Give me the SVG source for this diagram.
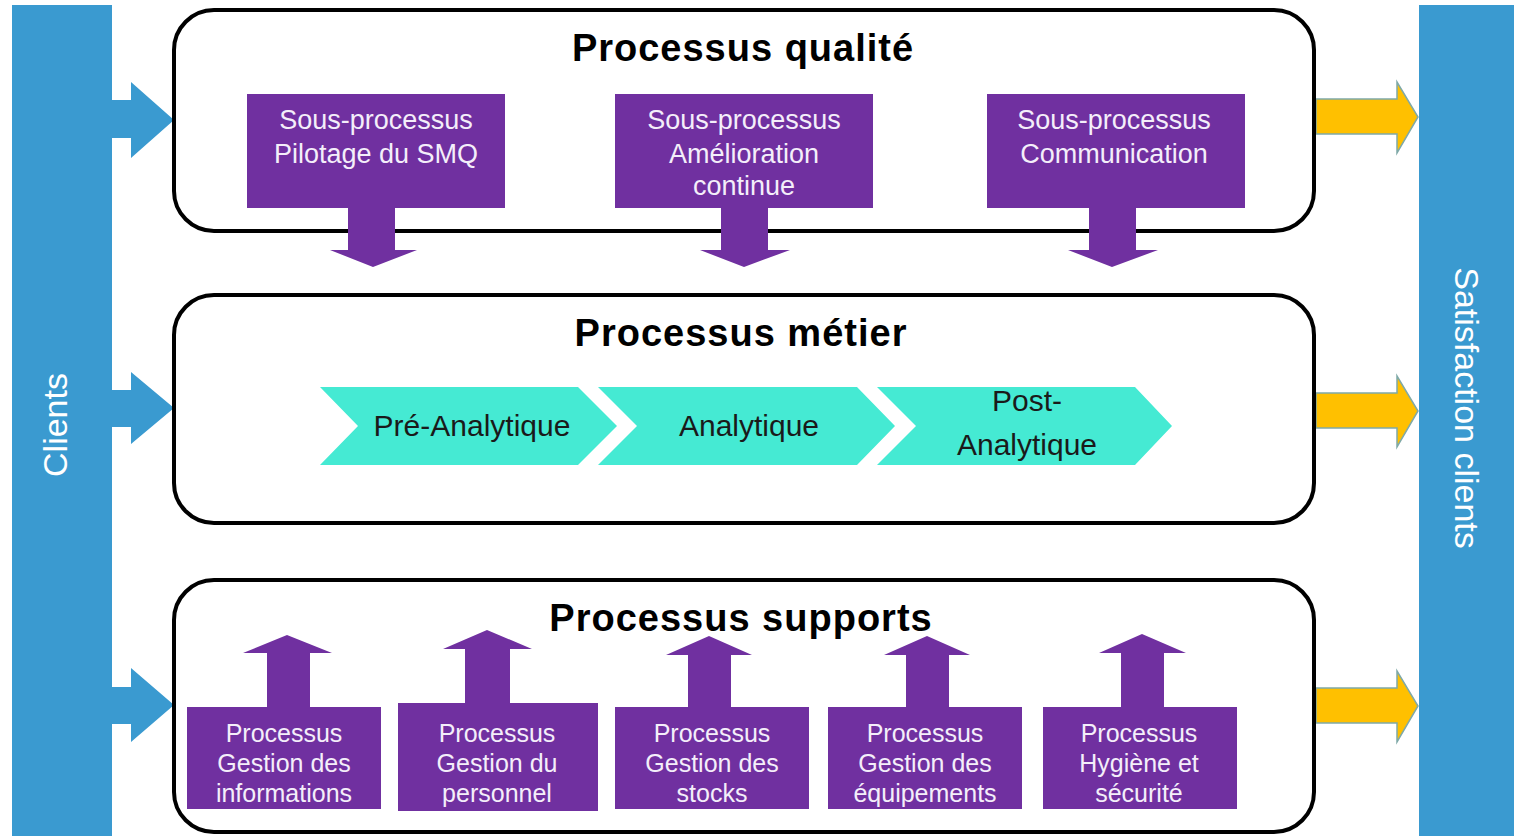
<svg xmlns="http://www.w3.org/2000/svg" width="1514" height="836" viewBox="0 0 1514 836">
<defs>
<style>
.frame{fill:#ffffff;stroke:#000;stroke-width:4}
.side{fill:#3A9AD0}
.purple{fill:#7030A0}
.yel{fill:#FFC000;stroke:#7FA9A8;stroke-width:1.5}
.chev{fill:#45EAD3}
.title{font-family:"Liberation Sans",Arial,sans-serif;font-weight:bold;font-size:38px;letter-spacing:1px;fill:#000;text-anchor:middle}
.wt{font-family:"Liberation Sans",Arial,sans-serif;font-size:27px;fill:#F4EEFA;text-anchor:middle}
.wb{font-family:"Liberation Sans",Arial,sans-serif;font-size:25px;fill:#F4EEFA;text-anchor:middle}
.ct{font-family:"Liberation Sans",Arial,sans-serif;font-size:30px;fill:#1a1a1a;text-anchor:middle}
.st{font-family:"Liberation Sans",Arial,sans-serif;font-size:34px;fill:#ffffff;text-anchor:middle}
</style>
</defs>
<rect width="1514" height="836" fill="#ffffff"/>

<g id="clients">
<rect class="side" x="12" y="5" width="100" height="831"/>
<text class="st" transform="translate(67,425) rotate(-90)">Clients</text>
</g>
<g id="satisfaction">
<rect class="side" x="1419" y="5" width="95" height="831"/>
<text class="st" transform="translate(1455,408) rotate(90)">Satisfaction clients</text>
</g>

<g id="connectors">
<path class="side" d="M110,100 H131 V82 L174,120 L131,158 V138 H110 Z"/>
<path class="side" d="M110,390 H131 V372 L174,408 L131,444 V427 H110 Z"/>
<path class="side" d="M110,687 H131 V668 L174,705 L131,742 V724 H110 Z"/>
<path class="yel" d="M1316,99 H1397 V82 L1418,117 L1397,153 V134 H1316 Z"/>
<path class="yel" d="M1316,393 H1397 V376 L1418,411 L1397,447 V428 H1316 Z"/>
<path class="yel" d="M1316,688 H1397 V671 L1418,706 L1397,742 V723 H1316 Z"/>
</g>

<g id="processus-qualite">
<rect class="frame" x="174" y="10" width="1140" height="221" rx="40"/>
<text class="title" x="743" y="61">Processus qualité</text>
</g>
<g id="processus-metier">
<rect class="frame" x="174" y="295" width="1140" height="228" rx="40"/>
<text class="title" x="741" y="346">Processus métier</text>
</g>
<g id="processus-supports">
<rect class="frame" x="174" y="580" width="1140" height="252" rx="40"/>
<text class="title" x="741" y="631">Processus supports</text>
</g>

<g id="sp-pilotage">
<rect class="purple" x="247" y="94" width="258" height="114"/>
<path class="purple" d="M348,206 H395 V250 H417 L373,267 L330,250 H348 Z"/>
<text class="wt" x="376" y="129">Sous-processus</text>
<text class="wt" x="376" y="163">Pilotage du SMQ</text>
</g>
<g id="sp-amelioration">
<rect class="purple" x="615" y="94" width="258" height="114"/>
<path class="purple" d="M721,206 H768 V250 H790 L744,267 L700,250 H721 Z"/>
<text class="wt" x="744" y="129">Sous-processus</text>
<text class="wt" x="744" y="163">Amélioration</text>
<text class="wt" x="744" y="195">continue</text>
</g>
<g id="sp-communication">
<rect class="purple" x="987" y="94" width="258" height="114"/>
<path class="purple" d="M1089,206 H1136 V250 H1158 L1112,267 L1068,250 H1089 Z"/>
<text class="wt" x="1114" y="129">Sous-processus</text>
<text class="wt" x="1114" y="163">Communication</text>
</g>

<g id="pre-analytique">
<path class="chev" d="M320,387 H578 L617,426 L578,465 H320 L358,426 Z"/>
<text class="ct" x="472" y="436">Pré-Analytique</text>
</g>
<g id="analytique">
<path class="chev" d="M598,387 H857 L895,426 L857,465 H598 L637,426 Z"/>
<text class="ct" x="749" y="436">Analytique</text>
</g>
<g id="post-analytique">
<path class="chev" d="M877,387 H1135 L1172,426 L1135,465 H877 L916,426 Z"/>
<text class="ct" x="1027" y="411">Post-</text>
<text class="ct" x="1027" y="455">Analytique</text>
</g>

<g id="ps-informations">
<path class="purple" d="M267,710 V653 H243 L287,635 L332,653 H310 V710 Z"/>
<rect class="purple" x="187" y="707" width="194" height="102"/>
<text class="wb" x="284" y="742">Processus</text>
<text class="wb" x="284" y="772">Gestion des</text>
<text class="wb" x="284" y="802">informations</text>
</g>
<g id="ps-personnel">
<path class="purple" d="M465,706 V649 H443 L487,630 L532,649 H510 V706 Z"/>
<rect class="purple" x="398" y="703" width="200" height="108"/>
<text class="wb" x="497" y="742">Processus</text>
<text class="wb" x="497" y="772">Gestion du</text>
<text class="wb" x="497" y="802">personnel</text>
</g>
<g id="ps-stocks">
<path class="purple" d="M688,710 V655 H666 L709,636 L752,655 H731 V710 Z"/>
<rect class="purple" x="615" y="707" width="194" height="102"/>
<text class="wb" x="712" y="742">Processus</text>
<text class="wb" x="712" y="772">Gestion des</text>
<text class="wb" x="712" y="802">stocks</text>
</g>
<g id="ps-equipements">
<path class="purple" d="M906,710 V655 H884 L927,636 L970,655 H949 V710 Z"/>
<rect class="purple" x="828" y="707" width="194" height="102"/>
<text class="wb" x="925" y="742">Processus</text>
<text class="wb" x="925" y="772">Gestion des</text>
<text class="wb" x="925" y="802">équipements</text>
</g>
<g id="ps-hygiene">
<path class="purple" d="M1121,710 V653 H1099 L1142,634 L1186,653 H1164 V710 Z"/>
<rect class="purple" x="1043" y="707" width="194" height="102"/>
<text class="wb" x="1139" y="742">Processus</text>
<text class="wb" x="1139" y="772">Hygiène et</text>
<text class="wb" x="1139" y="802">sécurité</text>
</g>
</svg>
